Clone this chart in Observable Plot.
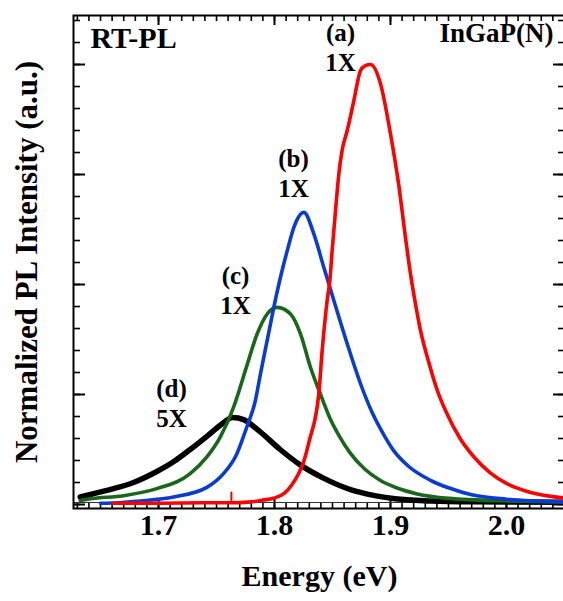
<!DOCTYPE html>
<html><head><meta charset="utf-8">
<script src="https://cdn.jsdelivr.net/npm/d3@7"></script>
<script src="https://cdn.jsdelivr.net/npm/@observablehq/plot@0.6"></script>
<style>
html,body{margin:0;padding:0;background:#fff;overflow:hidden;}
#chart{width:563px;height:601px;overflow:hidden;}
#chart svg{overflow:hidden;}
</style></head><body><div id="chart"></div>
<script>
// ---- data (Energy in eV, normalized PL intensity, red peak = 1) ----
const redE = [1.661,1.700,1.740,1.762,1.780,1.790,1.799,1.8083,1.815,1.8207,1.825,1.830,1.8382,1.8411,1.8454,1.8477,1.8497,1.8526,1.8555,1.8583,1.8627,1.8684,1.8741,1.878,1.8828,1.8914,1.900,1.9069,1.9129,1.9172,1.9216,1.9259,1.9328,1.940,1.948,1.960,1.972,1.986,2.000,2.020,2.049];
const redI = [0.003,0.003,0.004,0.004,0.006,0.010,0.014,0.025,0.045,0.070,0.096,0.145,0.252,0.350,0.464,0.509,0.577,0.668,0.752,0.805,0.850,0.918,0.986,0.997,1.000,0.956,0.842,0.730,0.607,0.525,0.455,0.395,0.325,0.262,0.210,0.150,0.108,0.072,0.048,0.028,0.015];
const spikeE = [1.7628,1.7628];
const spikeI = [0.004,0.027];

const blueE = [1.650,1.6554,1.6842,1.7129,1.7417,1.756,1.7675,1.7761,1.7834,1.7879,1.7937,1.7994,1.8052,1.811,1.8167,1.8253,1.8339,1.8425,1.8511,1.8627,1.8741,1.884,1.895,1.9026,1.915,1.9345,1.950,1.970,2.000,2.049];
const blueI = [0.003,0.003,0.008,0.017,0.039,0.070,0.115,0.176,0.235,0.297,0.373,0.448,0.517,0.577,0.630,0.664,0.615,0.539,0.464,0.365,0.275,0.210,0.155,0.123,0.088,0.055,0.038,0.022,0.012,0.006];

const greenE = [1.6325,1.6411,1.6698,1.6986,1.7273,1.7417,1.7532,1.7647,1.7678,1.7761,1.7851,1.7937,1.8023,1.8138,1.8224,1.831,1.8397,1.848,1.856,1.865,1.878,1.891,1.905,1.923,1.950,2.000,2.049];
const greenI = [0.009,0.013,0.020,0.036,0.070,0.108,0.153,0.221,0.245,0.315,0.388,0.433,0.448,0.433,0.388,0.312,0.250,0.195,0.155,0.118,0.080,0.055,0.038,0.024,0.014,0.008,0.006];

const blackE = [1.6325,1.6554,1.6784,1.6986,1.7129,1.7273,1.7417,1.7532,1.7640,1.7733,1.7877,1.8049,1.8222,1.8422,1.8655,1.8733,1.904,1.935,1.970,2.049];
const blackI = [0.017,0.032,0.050,0.075,0.097,0.125,0.155,0.180,0.198,0.193,0.165,0.125,0.090,0.060,0.034,0.028,0.013,0.008,0.006,0.005];

const seriesNames = ["a","b","c","d"];
const seriesColors = ["#ff0000","#0a3cd2","#1a661a","#000000"];

const annText = ["(a)\n1X","(b)\n1X","(c)\n1X","(d)\n5X"];
const annE = [1.8569,1.8164,1.7664,1.7112];
const annI = [0.986,0.698,0.434,0.175];

const xMajor = [1.7,1.8,1.9,2.0];
const xMinor = d3.range(163,206).map(d => d/100);
const yMajor = [0,0.25,0.5,0.75,1.0];
const yMinor = d3.range(0,23).map(d => d*0.05);

const xLabel = "Energy (eV)";
const yLabel = "Normalized PL Intensity (a.u.)";
const leftNote = "RT-PL";
const rightNote = "InGaP(N)";

// ---- build tables ----
const toRows = (E, I) => E.map((e, i) => ({E: e, I: I[i]}));
const curves = [toRows(redE, redI), toRows(blueE, blueI), toRows(greenE, greenI), toRows(blackE, blackI)];
const spike = toRows(spikeE, spikeI);
const ann = annText.map((t, i) => ({t, E: annE[i], I: annI[i]}));

// ---- layout ----
const W = 563, H = 601, mL = 73, mR = -2, mT = 15, mB = 93;
const plotW = W - mL - mR, plotH = H - mT - mB;
const serif = "Liberation Serif, Times New Roman, serif";

const chart = Plot.plot({
  width: W, height: H,
  marginLeft: mL, marginRight: mR, marginTop: mT, marginBottom: mB,
  x: {domain: [1.6267, 2.0509], axis: null},
  y: {domain: [-0.0091, 1.1114], axis: null},
  style: {fontFamily: serif, background: "white", color: "black"},
  marks: [
    Plot.tickY(yMinor, {y: d => d, insetRight: plotW - 7, strokeWidth: 1.6, stroke: "black"}),
    Plot.tickY(yMajor, {y: d => d, insetRight: plotW - 12, strokeWidth: 2, stroke: "black"}),
    Plot.tickY(yMinor, {y: d => d, insetLeft: plotW - 7, strokeWidth: 1.6, stroke: "black"}),
    Plot.tickY(yMajor, {y: d => d, insetLeft: plotW - 12, strokeWidth: 2, stroke: "black"}),
    Plot.tickX(xMinor, {x: d => d, insetBottom: plotH - 6, strokeWidth: 1.6, stroke: "black"}),
    Plot.tickX(xMajor, {x: d => d, insetBottom: plotH - 10, strokeWidth: 2, stroke: "black"}),
    Plot.tickX(xMinor, {x: d => d, insetTop: plotH - 6, strokeWidth: 1.6, stroke: "black"}),
    Plot.tickX(xMajor, {x: d => d, insetTop: plotH - 9, strokeWidth: 2, stroke: "black"}),
    Plot.ruleY([0], {dy: -2, stroke: "#333", strokeWidth: 1.2}),
    Plot.line(spike, {x: "E", y: "I", stroke: seriesColors[0], strokeWidth: 2}),
    Plot.line(curves[3], {x: "E", y: "I", stroke: seriesColors[3], strokeWidth: 5.5, curve: "monotone-x"}),
    Plot.line(curves[2], {x: "E", y: "I", stroke: seriesColors[2], strokeWidth: 3.6, curve: "monotone-x"}),
    Plot.line(curves[1], {x: "E", y: "I", stroke: seriesColors[1], strokeWidth: 3.6, curve: "monotone-x"}),
    Plot.line(curves[0], {x: "E", y: "I", stroke: seriesColors[0], strokeWidth: 3.6, curve: "monotone-x"}),
    Plot.frame({stroke: "black", strokeWidth: 2}),
    Plot.text(ann, {x: "E", y: "I", text: "t", lineAnchor: "bottom", lineHeight: 1.2, fontSize: 25, fontWeight: "bold", fill: "black"}),
    Plot.text([leftNote], {frameAnchor: "top-left", dx: 17, dy: 11.4, lineAnchor: "top", textAnchor: "start", fontSize: 30, fontWeight: "bold", fill: "black"}),
    Plot.text([rightNote], {frameAnchor: "top-right", dx: -12, dy: 7.8, lineAnchor: "top", textAnchor: "end", fontSize: 27, fontWeight: "bold", fill: "black"}),
    Plot.text(xMajor, {x: d => d, frameAnchor: "bottom", dy: 26, text: d => d.toFixed(1), fontSize: 30, fontWeight: "bold", fill: "black"}),
    Plot.text([xLabel], {frameAnchor: "bottom", dy: 77, fontSize: 30, fontWeight: "bold", fill: "black"}),
    Plot.text([yLabel], {frameAnchor: "left", dx: -46, rotate: -90, textAnchor: "middle", fontSize: 31, fontWeight: "bold", fill: "black"})
  ]
});
document.getElementById("chart").appendChild(chart);
</script></body></html>
